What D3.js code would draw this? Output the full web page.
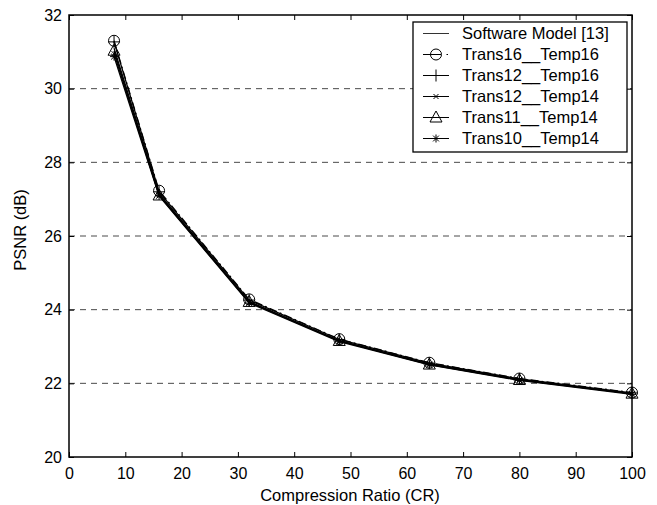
<!DOCTYPE html>
<html>
<head>
<meta charset="utf-8">
<script src="https://cdn.jsdelivr.net/npm/d3@7"></script>
<style>
  html, body { margin: 0; padding: 0; background: #fff; }
  svg { display: block; font-family: "Liberation Sans", Arial, sans-serif; }
</style>
</head>
<body>
<svg id="chart" width="657" height="505"></svg>
<script>
// ---- data ----
const compressionRatios = [8, 16, 32, 48, 64, 80, 100];
const seriesNames = ["Software Model [13]", "Trans16__Temp16", "Trans12__Temp16", "Trans12__Temp14", "Trans11__Temp14", "Trans10__Temp14"];
const softwareModel = [31.10, 27.15, 24.22, 23.16, 22.52, 22.10, 21.72];
const trans16Temp16 = [31.30, 27.23, 24.28, 23.20, 22.56, 22.13, 21.75];
const trans12Temp16 = [31.27, 27.20, 24.26, 23.19, 22.55, 22.12, 21.74];
const trans12Temp14 = [30.95, 27.12, 24.20, 23.15, 22.52, 22.10, 21.72];
const trans11Temp14 = [31.03, 27.10, 24.21, 23.15, 22.51, 22.09, 21.72];
const trans10Temp14 = [30.87, 27.09, 24.18, 23.13, 22.50, 22.08, 21.70];
const xTicks = [0, 10, 20, 30, 40, 50, 60, 70, 80, 90, 100];
const yTicks = [20, 22, 24, 26, 28, 30, 32];
const xLabel = "Compression Ratio (CR)";
const yLabel = "PSNR (dB)";

const allSeries = [softwareModel, trans16Temp16, trans12Temp16, trans12Temp14, trans11Temp14, trans10Temp14];
const markers = ["none", "circle", "plus", "cross", "triangle", "star"];
const dashes = [null, "8,3,2,3", null, null, null, null];

// ---- layout ----
const L = 69, R = 632, T = 15, B = 457;
const svg = d3.select("#chart");
const x = d3.scaleLinear().domain([0, 100]).range([L, R]);
const y = d3.scaleLinear().domain([20, 32]).range([B, T]);

// grid
svg.append("g").selectAll("line")
  .data(yTicks.filter(v => v > 20 && v < 32))
  .join("line")
  .attr("x1", L).attr("x2", R)
  .attr("y1", d => y(d)).attr("y2", d => y(d))
  .attr("stroke", "#4a4a4a").attr("stroke-width", 1)
  .attr("stroke-dasharray", "6,5");

// axes
const fs = "16px";
const fsL = "16.5px";
const gB = svg.append("g").attr("transform", `translate(0,${B})`)
  .call(d3.axisBottom(x).tickValues(xTicks).tickSizeInner(-5).tickSizeOuter(0).tickPadding(11));
const gL = svg.append("g").attr("transform", `translate(${L},0)`)
  .call(d3.axisLeft(y).tickValues(yTicks).tickSizeInner(-5).tickSizeOuter(0).tickPadding(7));
const gT = svg.append("g").attr("transform", `translate(0,${T})`)
  .call(d3.axisTop(x).tickValues(xTicks).tickSizeInner(-5).tickSizeOuter(0).tickFormat(""));
const gR = svg.append("g").attr("transform", `translate(${R},0)`)
  .call(d3.axisRight(y).tickValues(yTicks).tickSizeInner(-5).tickSizeOuter(0).tickFormat(""));
[gB, gL, gT, gR].forEach(g => {
  g.select(".domain").remove();
  g.selectAll(".tick line").attr("stroke", "#000").attr("stroke-width", 1);
  g.selectAll("text").attr("fill", "#000").style("font-size", fs)
    .style("font-family", '"Liberation Sans", Arial, sans-serif');
});

// frame
svg.append("rect").attr("x", L).attr("y", T).attr("width", R - L).attr("height", B - T)
  .attr("fill", "none").attr("stroke", "#000").attr("stroke-width", 1.5);

// axis labels
svg.append("text").attr("x", (L + R) / 2 - 0.5).attr("y", 501)
  .attr("text-anchor", "middle").style("font-size", fsL).text(xLabel);
svg.append("text").attr("transform", `translate(26,${(T + B) / 2 - 6}) rotate(-90)`)
  .attr("text-anchor", "middle").style("font-size", fsL).text(yLabel);

// marker drawing
function drawMarker(g, type, cx, cy) {
  if (type === "circle") {
    g.append("circle").attr("cx", cx).attr("cy", cy).attr("r", 5.5)
      .attr("fill", "none").attr("stroke", "#000").attr("stroke-width", 1);
  } else if (type === "plus") {
    g.append("path").attr("d", `M${cx - 6},${cy}H${cx + 6}M${cx},${cy - 6}V${cy + 6}`)
      .attr("stroke", "#000").attr("stroke-width", 1);
  } else if (type === "cross") {
    const s = 2.5;
    g.append("path").attr("d", `M${cx - s},${cy - s}L${cx + s},${cy + s}M${cx - s},${cy + s}L${cx + s},${cy - s}`)
      .attr("stroke", "#000").attr("stroke-width", 1);
  } else if (type === "triangle") {
    g.append("path").attr("d", `M${cx},${cy - 6.5}L${cx + 6},${cy + 4.5}L${cx - 6},${cy + 4.5}Z`)
      .attr("fill", "none").attr("stroke", "#000").attr("stroke-width", 1);
  } else if (type === "star") {
    const s = 4, d = 2.9;
    g.append("path").attr("d",
      `M${cx - s},${cy}H${cx + s}M${cx},${cy - s}V${cy + s}M${cx - d},${cy - d}L${cx + d},${cy + d}M${cx - d},${cy + d}L${cx + d},${cy - d}`)
      .attr("stroke", "#000").attr("stroke-width", 1);
  }
}

// series
const line = d3.line().x((d, i) => x(compressionRatios[i])).y(d => y(d));
allSeries.forEach((vals, si) => {
  const g = svg.append("g");
  g.append("path").datum(vals).attr("d", line)
    .attr("fill", "none").attr("stroke", "#000").attr("stroke-width", 1.3)
    .attr("stroke-dasharray", dashes[si]);
  vals.forEach((v, i) => drawMarker(g, markers[si], x(compressionRatios[i]), y(v)));
});

// legend
const lgX = 413, lgY = 22, lgW = 214, lgH = 130;
const lg = svg.append("g");
lg.append("rect").attr("x", lgX).attr("y", lgY).attr("width", lgW).attr("height", lgH)
  .attr("fill", "#fff").attr("stroke", "#000").attr("stroke-width", 1.3);
seriesNames.forEach((name, i) => {
  const cy = 33.5 + i * 21;
  const gi = lg.append("g");
  if (dashes[i]) {
    gi.append("line").attr("x1", 423).attr("x2", 441).attr("y1", cy).attr("y2", cy).attr("stroke", "#000");
    gi.append("line").attr("x1", 446.5).attr("x2", 448).attr("y1", cy).attr("y2", cy).attr("stroke", "#000");
  } else {
    gi.append("line").attr("x1", 423).attr("x2", 449).attr("y1", cy).attr("y2", cy)
      .attr("stroke", i === 0 ? "#333" : "#000").attr("stroke-width", 1);
  }
  drawMarker(gi, markers[i], 436, cy);
  gi.append("text").attr("x", 462).attr("y", cy).attr("dy", "0.36em")
    .style("font-size", fsL).attr("fill", "#000").text(name);
});
</script>
</body>
</html>
